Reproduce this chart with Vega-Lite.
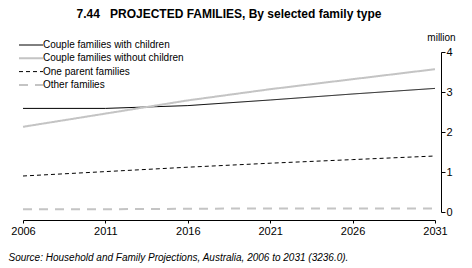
{
  "$schema": "https://vega.github.io/schema/vega-lite/v6.json",
  "autosize": {"type": "none"},
  "width": 412,
  "height": 160,
  "padding": {"left": 23, "top": 52, "right": 37, "bottom": 56},
  "background": "white",
  "title": {
    "text": "7.44\u00a0\u00a0\u00a0PROJECTED FAMILIES, By selected family type",
    "font": "Liberation Sans",
    "fontSize": 12,
    "fontWeight": "bold",
    "color": "#000000",
    "anchor": "middle",
    "frame": "group",
    "offset": 11
  },
  "config": {
    "view": {"stroke": null},
    "font": "Liberation Sans",
    "legend": {
      "title": null,
      "orient": "none",
      "legendX": 3,
      "legendY": -12,
      "symbolType": "M-3,0H3",
      "symbolSize": 64,
      "labelFontSize": 10,
      "labelColor": "#000000",
      "labelOffset": 7,
      "rowPadding": 3.3
    }
  },
  "data": {
    "values": [
      {"year": 2006, "type": "Couple families with children", "value": 2.59},
      {"year": 2011, "type": "Couple families with children", "value": 2.59},
      {"year": 2016, "type": "Couple families with children", "value": 2.66},
      {"year": 2021, "type": "Couple families with children", "value": 2.80},
      {"year": 2026, "type": "Couple families with children", "value": 2.95},
      {"year": 2031, "type": "Couple families with children", "value": 3.09},
      {"year": 2006, "type": "Couple families without children", "value": 2.13},
      {"year": 2011, "type": "Couple families without children", "value": 2.46},
      {"year": 2016, "type": "Couple families without children", "value": 2.79},
      {"year": 2021, "type": "Couple families without children", "value": 3.07},
      {"year": 2026, "type": "Couple families without children", "value": 3.32},
      {"year": 2031, "type": "Couple families without children", "value": 3.57},
      {"year": 2006, "type": "One parent families", "value": 0.90},
      {"year": 2011, "type": "One parent families", "value": 1.01},
      {"year": 2016, "type": "One parent families", "value": 1.12},
      {"year": 2021, "type": "One parent families", "value": 1.22},
      {"year": 2026, "type": "One parent families", "value": 1.31},
      {"year": 2031, "type": "One parent families", "value": 1.40},
      {"year": 2006, "type": "Other families", "value": 0.07},
      {"year": 2011, "type": "Other families", "value": 0.07},
      {"year": 2016, "type": "Other families", "value": 0.08},
      {"year": 2021, "type": "Other families", "value": 0.09},
      {"year": 2026, "type": "Other families", "value": 0.09},
      {"year": 2031, "type": "Other families", "value": 0.09}
    ]
  },
  "mark": {"type": "line"},
  "encoding": {
    "x": {
      "field": "year",
      "type": "quantitative",
      "scale": {"domain": [2006, 2031], "nice": false, "zero": false},
      "axis": {
        "values": [2006, 2011, 2016, 2021, 2026, 2031],
        "format": "d",
        "offset": 8,
        "grid": false,
        "domainColor": "#000000",
        "tickColor": "#000000",
        "tickSize": 3,
        "labelFontSize": 11,
        "labelColor": "#000000",
        "labelPadding": 2,
        "labelFlush": false,
        "title": "Source: Household and Family Projections, Australia, 2006 to 2031 (3236.0).",
        "titleFontSize": 10,
        "titleFontStyle": "italic",
        "titleFontWeight": "normal",
        "titleColor": "#000000",
        "titleAnchor": "start",
        "titleAlign": "left",
        "titleBaseline": "alphabetic",
        "titleX": -15,
        "titleY": 40
      }
    },
    "y": {
      "field": "value",
      "type": "quantitative",
      "scale": {"domain": [0, 4], "nice": false},
      "axis": {
        "orient": "right",
        "values": [0, 1, 2, 3, 4],
        "offset": 6,
        "grid": false,
        "domainColor": "#000000",
        "tickColor": "#000000",
        "tickSize": 4,
        "labelFontSize": 11,
        "labelColor": "#000000",
        "labelPadding": 1,
        "labelFlush": false,
        "title": "million",
        "titleAngle": 0,
        "titleFontSize": 10,
        "titleFontWeight": "normal",
        "titleColor": "#000000",
        "titleAlign": "center",
        "titleBaseline": "alphabetic",
        "titleX": 0,
        "titleY": -12
      }
    },
    "color": {
      "field": "type",
      "type": "nominal",
      "scale": {
        "domain": ["Couple families with children", "Couple families without children", "One parent families", "Other families"],
        "range": ["#000000", "#c4c4c4", "#000000", "#c4c4c4"]
      }
    },
    "strokeDash": {
      "field": "type",
      "type": "nominal",
      "scale": {
        "domain": ["Couple families with children", "Couple families without children", "One parent families", "Other families"],
        "range": [[1, 0], [1, 0], [4, 3], [9, 7]]
      }
    },
    "strokeWidth": {
      "field": "type",
      "type": "nominal",
      "scale": {
        "type": "ordinal",
        "domain": ["Couple families with children", "Couple families without children", "One parent families", "Other families"],
        "range": [1, 2, 1, 2]
      }
    }
  }
}
